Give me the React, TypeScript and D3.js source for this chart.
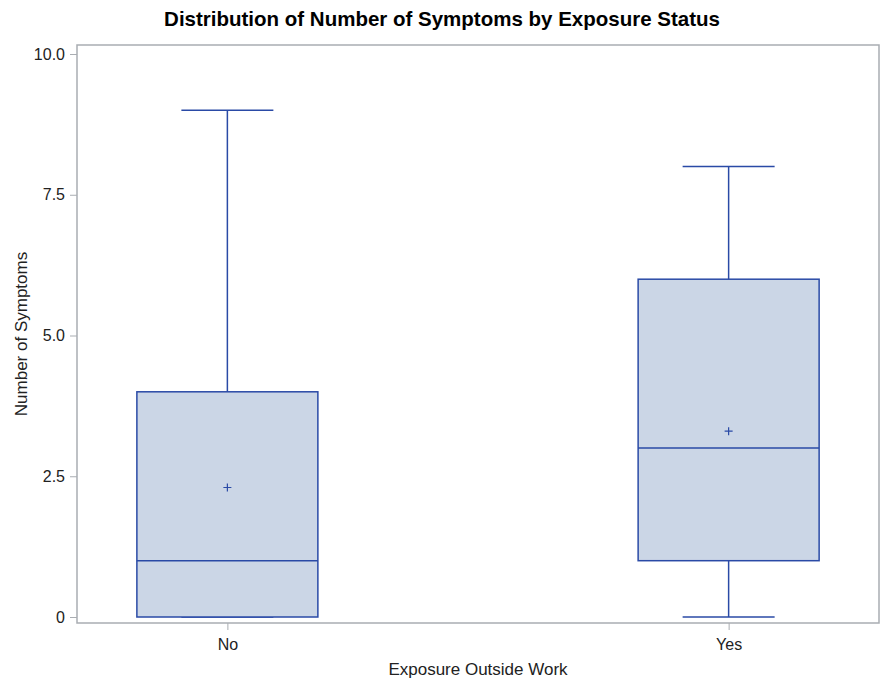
import React, { useEffect, useRef } from "react";
import * as d3 from "d3";

const width = 883;
const height = 678;
const margin = { top: 45, right: 4, bottom: 55, left: 77 };

const categories = ["No", "Yes"];
const q1s = [0, 1];
const medians = [1, 3];
const q3s = [4, 6];
const mins = [0, 0];
const maxes = [9, 8];
const means = [2.3, 3.3];
const yTicks = [0, 2.5, 5, 7.5, 10];

const stroke = "#2a4aa6";
const fill = "#cbd6e6";
const frame = "#a9adb2";
const font = "'Liberation Sans', Arial, sans-serif";

export default function App() {
  const xAxisRef = useRef<SVGGElement>(null);
  const yAxisRef = useRef<SVGGElement>(null);

  const x = d3
    .scalePoint()
    .domain(categories)
    .range([margin.left, width - margin.right])
    .padding(0.3);
  const y = d3
    .scaleLinear()
    .domain([0, 10])
    .range([617, 54]);

  const boxW = 181;
  const capW = 92;

  useEffect(() => {
    const xAxis = d3.axisBottom(x).tickSize(7).tickPadding(5);
    const yAxis = d3
      .axisLeft(y)
      .tickValues(yTicks)
      .tickSize(7)
      .tickPadding(5)
      .tickFormat(d => (+d === 0 ? "0" : d3.format(".1f")(+d)));
    const gx = d3.select(xAxisRef.current!).call(xAxis);
    const gy = d3.select(yAxisRef.current!).call(yAxis);
    [gx, gy].forEach(g => {
      g.select(".domain").remove();
      g.selectAll(".tick line").attr("stroke", frame);
      g.selectAll(".tick text")
        .attr("fill", "#222")
        .style("font-family", font)
        .style("font-size", "16px");
    });
    gx.selectAll(".tick text").attr("dy", "0.95em");
  }, []);

  const plotBottom = height - margin.bottom;

  return (
    <div style={{ position: "absolute", left: 0, top: 0 }}>
      <svg width={width} height={height} style={{ display: "block" }}>
        <rect width={width} height={height} fill="#fff" />
        <text
          x={442}
          y={26}
          textAnchor="middle"
          fontFamily={font}
          fontWeight="bold"
          fontSize={20.5}
          fill="#000"
        >
          Distribution of Number of Symptoms by Exposure Status
        </text>
        <rect
          x={margin.left}
          y={margin.top}
          width={width - margin.left - margin.right}
          height={plotBottom - margin.top}
          fill="none"
          stroke={frame}
          strokeWidth={1.5}
        />
        {categories.map((c, i) => {
          const cx = x(c)!;
          return (
            <g key={c}>
              <line x1={cx} x2={cx} y1={y(q3s[i])} y2={y(maxes[i])} stroke={stroke} strokeWidth={1.5} />
              <line x1={cx} x2={cx} y1={y(q1s[i])} y2={y(mins[i])} stroke={stroke} strokeWidth={1.5} />
              <line x1={cx - capW / 2} x2={cx + capW / 2} y1={y(maxes[i])} y2={y(maxes[i])} stroke={stroke} strokeWidth={1.5} />
              <line x1={cx - capW / 2} x2={cx + capW / 2} y1={y(mins[i])} y2={y(mins[i])} stroke={stroke} strokeWidth={1.5} />
              <rect
                x={cx - boxW / 2}
                y={y(q3s[i])}
                width={boxW}
                height={y(q1s[i]) - y(q3s[i])}
                fill={fill}
                stroke={stroke}
                strokeWidth={1.5}
              />
              <line x1={cx - boxW / 2} x2={cx + boxW / 2} y1={y(medians[i])} y2={y(medians[i])} stroke={stroke} strokeWidth={1.5} />
              <path
                d={`M${cx - 4},${y(means[i])}h8M${cx},${y(means[i]) - 4}v8`}
                stroke={stroke}
                strokeWidth={1.2}
              />
            </g>
          );
        })}
        <g ref={xAxisRef} transform={`translate(0,${plotBottom})`} />
        <g ref={yAxisRef} transform={`translate(${margin.left},0)`} />
        <text
          x={(margin.left + width - margin.right) / 2}
          y={675}
          textAnchor="middle"
          fontFamily={font}
          fontSize={17}
          fill="#222"
        >
          Exposure Outside Work
        </text>
        <text
          transform={`translate(27,${(margin.top + plotBottom) / 2}) rotate(-90)`}
          textAnchor="middle"
          fontFamily={font}
          fontSize={17}
          fill="#222"
        >
          Number of Symptoms
        </text>
      </svg>
    </div>
  );
}
